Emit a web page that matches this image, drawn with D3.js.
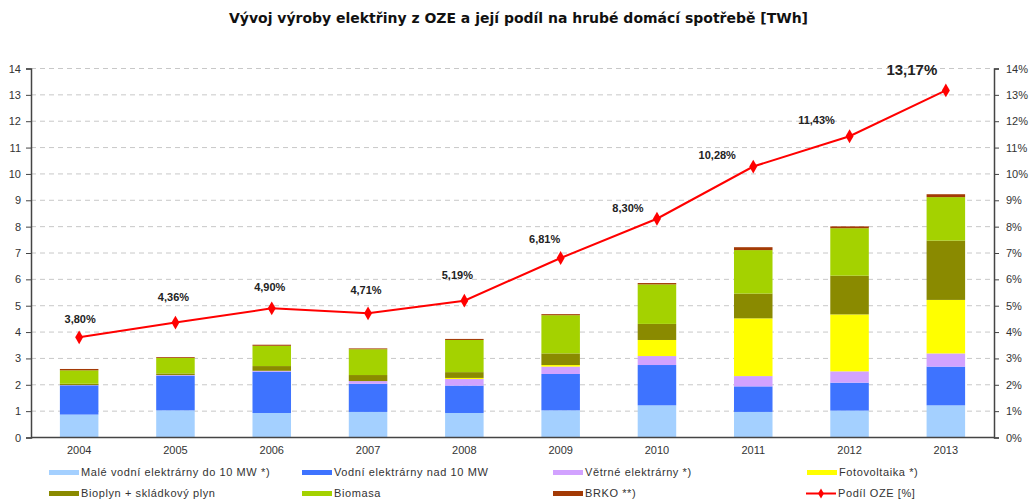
<!DOCTYPE html>
<html>
<head>
<meta charset="utf-8">
<script src="https://cdn.jsdelivr.net/npm/d3@7"></script>
<style>
  body { margin: 0; background: #fff; }
  text { font-family: "Liberation Sans", Arial, sans-serif; }
</style>
</head>
<body>
<div id="plot"></div>
<script>
// Data
const years = ["2004", "2005", "2006", "2007", "2008", "2009", "2010", "2011", "2012", "2013"];
const maleVodni = [0.87, 1.03, 0.93, 0.97, 0.93, 1.03, 1.22, 0.97, 1.02, 1.22];
const vodniNad10 = [1.11, 1.32, 1.57, 1.07, 1.04, 1.38, 1.53, 0.97, 1.06, 1.47];
const vetrne = [0.01, 0.02, 0.03, 0.10, 0.25, 0.28, 0.34, 0.39, 0.43, 0.50];
const fotovoltaika = [0, 0, 0, 0, 0.04, 0.06, 0.61, 2.19, 2.16, 2.03];
const bioplyn = [0.05, 0.06, 0.18, 0.23, 0.22, 0.44, 0.61, 0.94, 1.47, 2.25];
const biomasa = [0.51, 0.59, 0.77, 0.98, 1.22, 1.45, 1.50, 1.65, 1.80, 1.65];
const brko = [0.05, 0.03, 0.04, 0.03, 0.04, 0.04, 0.05, 0.11, 0.07, 0.11];
const podilOZE = [3.80, 4.36, 4.90, 4.71, 5.19, 6.81, 8.30, 10.28, 11.43, 13.17];
const podilLabels = ["3,80%", "4,36%", "4,90%", "4,71%", "5,19%", "6,81%", "8,30%", "10,28%", "11,43%", "13,17%"];
const yTicks = [0, 1, 2, 3, 4, 5, 6, 7, 8, 9, 10, 11, 12, 13, 14];

const seriesNames = ["Malé vodní elektrárny do 10 MW *)", "Vodní elektrárny nad 10 MW",
  "Větrné elektrárny *)", "Fotovoltaika *)", "Bioplyn + skládkový plyn", "Biomasa", "BRKO **)"];
const seriesValues = [maleVodni, vodniNad10, vetrne, fotovoltaika, bioplyn, biomasa, brko];
const seriesColors = ["#a4d0ff", "#3e73ff", "#d2a2ff", "#ffff00", "#8a8a00", "#a4d200", "#a33a05"];

// label offsets relative to the line points (px)
const labelDx = [1, -2, -2, -2, -7, -16, -29, -36, -33, -34];
const labelDy = [-18, -25, -21, -23, -26, -19, -11, -11, -16, -21];

const width = 1036;
const height = 504;
const margin = {top: 68.5, right: 42, bottom: 66.5, left: 31};

const svg = d3.select("#plot")
  .append("svg")
  .attr("width", width)
  .attr("height", height);

const x = d3.scaleBand()
  .domain(years)
  .range([margin.left, width - margin.right])
  .paddingInner(0.6)
  .paddingOuter(0.3);

const y = d3.scaleLinear()
  .domain([0, 14])
  .range([height - margin.bottom, margin.top]);

// Title
svg.append("text")
  .attr("x", 518.5)
  .attr("y", 23)
  .attr("text-anchor", "middle")
  .attr("textLength", 579)
  .attr("lengthAdjust", "spacingAndGlyphs")
  .style("font-family", "'DejaVu Sans', Verdana, sans-serif")
  .style("font-size", "14px")
  .style("font-weight", "bold")
  .attr("fill", "#111")
  .text("Vývoj výroby elektřiny z OZE a její podíl na hrubé domácí  spotřebě [TWh]");

// Gridlines
svg.append("g")
  .selectAll("line")
  .data(yTicks.slice(1))
  .join("line")
  .attr("x1", margin.left)
  .attr("x2", width - margin.right)
  .attr("y1", d => y(d))
  .attr("y2", d => y(d))
  .attr("stroke", "#c8c8c8")
  .attr("stroke-dasharray", "5,4");

// Stacked bars
const stackData = years.map((yr, i) => {
  const row = {year: yr};
  seriesNames.forEach((s, j) => row[s] = seriesValues[j][i]);
  return row;
});
const stacked = d3.stack().keys(seriesNames)(stackData);

svg.append("g")
  .selectAll("g")
  .data(stacked)
  .join("g")
  .attr("fill", (d, i) => seriesColors[i])
  .selectAll("rect")
  .data(d => d)
  .join("rect")
  .attr("x", d => x(d.data.year))
  .attr("y", d => y(d[1]))
  .attr("width", x.bandwidth())
  .attr("height", d => y(d[0]) - y(d[1]));

// Axes
const leftAxis = svg.append("g")
  .attr("transform", `translate(${margin.left},0)`)
  .call(d3.axisLeft(y).tickValues(yTicks).tickSize(5).tickPadding(5));

const rightAxis = svg.append("g")
  .attr("transform", `translate(${width - margin.right},0)`)
  .call(d3.axisRight(y).tickValues(yTicks).tickSize(5).tickPadding(7).tickFormat(d => d + "%"));

const bottomAxis = svg.append("g")
  .attr("transform", `translate(0,${height - margin.bottom})`)
  .call(d3.axisBottom(x).tickSize(0).tickPadding(9));

[leftAxis, rightAxis, bottomAxis].forEach(g => {
  g.select(".domain").attr("stroke", "#444").attr("stroke-width", 1.5);
  g.selectAll(".tick line").attr("stroke", "#444");
  g.selectAll("text")
    .style("font-size", "11px")
    .attr("fill", "#333")
    .style("font-family", "'Liberation Sans', Arial, sans-serif");
});
bottomAxis.select(".domain").attr("d", `M${margin.left},0H${width - margin.right}`);

// Line of share
const cx = d => x(d) + x.bandwidth() / 2;
const line = d3.line()
  .x((d, i) => cx(years[i]))
  .y(d => y(d));

svg.append("path")
  .datum(podilOZE)
  .attr("fill", "none")
  .attr("stroke", "#ff0000")
  .attr("stroke-width", 2)
  .attr("d", line);

const diamond = d3.symbol().type(d3.symbolDiamond).size(55);
svg.append("g")
  .selectAll("path")
  .data(podilOZE)
  .join("path")
  .attr("transform", (d, i) => `translate(${cx(years[i])},${y(d)})`)
  .attr("d", diamond)
  .attr("fill", "#ff0000");

svg.append("g")
  .selectAll("text")
  .data(podilOZE)
  .join("text")
  .attr("x", (d, i) => cx(years[i]) + labelDx[i])
  .attr("y", (d, i) => y(d) + labelDy[i])
  .attr("dy", "0.35em")
  .attr("text-anchor", "middle")
  .style("font-size", (d, i) => i === podilOZE.length - 1 ? "15px" : "11px")
  .style("font-weight", "bold")
  .attr("fill", "#222")
  .text((d, i) => podilLabels[i]);

// Legend
const legendPos = [[49, 472.5], [302, 472.5], [553, 472.5], [807, 472.5], [49, 493.5], [302, 493.5], [553, 493.5]];
const legend = svg.append("g");
seriesNames.forEach((s, i) => {
  const [lx, ly] = legendPos[i];
  legend.append("rect")
    .attr("x", lx)
    .attr("y", ly - 2.5)
    .attr("width", 30)
    .attr("height", 5)
    .attr("fill", seriesColors[i]);
  legend.append("text")
    .attr("x", lx + 32)
    .attr("y", ly)
    .attr("dy", "0.35em")
    .style("font-size", "11px")
    .style("letter-spacing", "0.6px")
    .attr("fill", "#333")
    .text(s);
});
legend.append("line")
  .attr("x1", 806).attr("x2", 836)
  .attr("y1", 493.5).attr("y2", 493.5)
  .attr("stroke", "#ff0000")
  .attr("stroke-width", 2);
legend.append("path")
  .attr("transform", "translate(821,493.5)")
  .attr("d", d3.symbol().type(d3.symbolDiamond).size(30))
  .attr("fill", "#ff0000");
legend.append("text")
  .attr("x", 838)
  .attr("y", 493.5)
  .attr("dy", "0.35em")
  .style("font-size", "11px")
  .style("letter-spacing", "0.6px")
  .attr("fill", "#333")
  .text("Podíl OZE [%]");
</script>
</body>
</html>
